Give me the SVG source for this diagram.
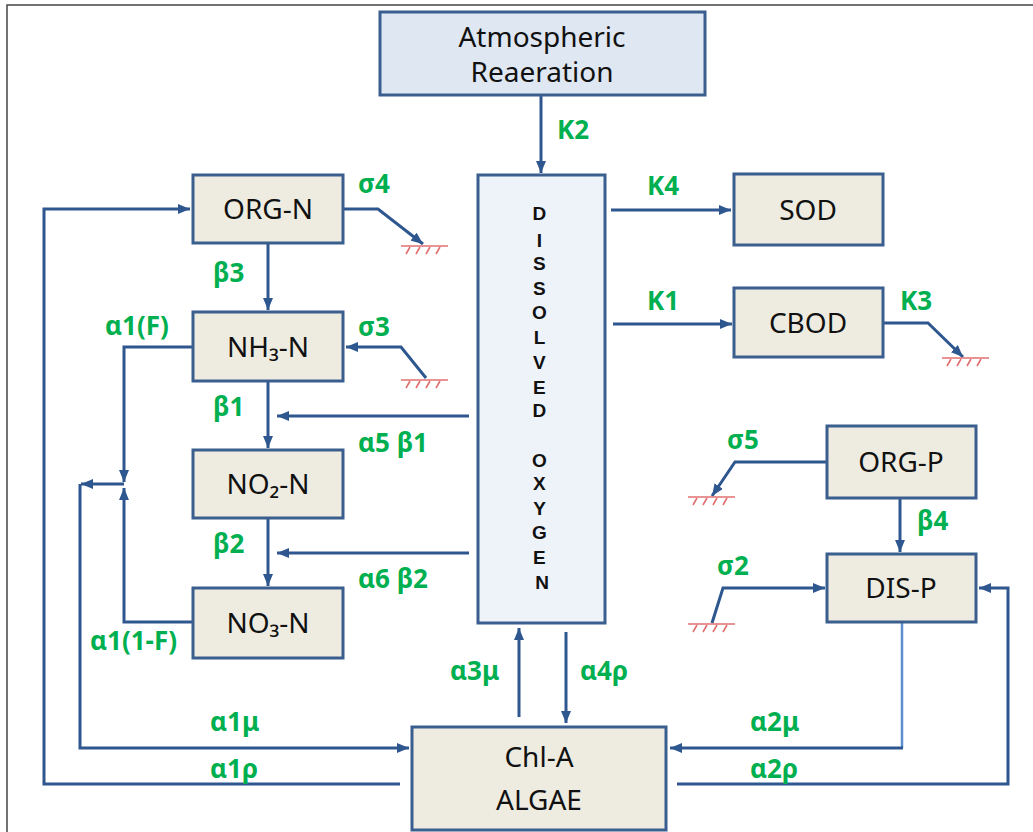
<svg xmlns="http://www.w3.org/2000/svg" width="1033" height="832" viewBox="0 0 1033 832">
  <style>
    .box { fill: #eeece1; stroke: #3a5f8f; stroke-width: 3; }
    .boxb { fill: #dfe7f2; stroke: #3a5f8f; stroke-width: 3; }
    .boxdo { fill: #eef3fa; stroke: #3a5f8f; stroke-width: 3; }
    .node { font-family: "Noto Sans", "Liberation Sans", sans-serif; font-size: 28px; fill: #111; text-anchor: middle; }
    .do { font-family: "Liberation Sans", Arial, sans-serif; font-size: 19px; font-weight: bold; fill: #111; text-anchor: middle; }
    .lbl { font-family: "Noto Sans", "Liberation Sans", sans-serif; font-size: 26px; font-weight: bold; fill: #00b050; }
    .ln { fill: none; stroke: #2e578f; stroke-width: 3; stroke-linejoin: miter; }
    .lnl { fill: none; stroke: #5b8fd0; stroke-width: 2.5; }
    .gnd { fill: none; stroke: #e07070; stroke-width: 1.6; }
  </style>
  <defs>
    <marker id="arr" viewBox="0 0 12 10" refX="12" refY="5" markerWidth="12" markerHeight="10" markerUnits="userSpaceOnUse" orient="auto">
      <path d="M0,0 L12,5 L0,10 z" fill="#2e578f"/>
    </marker>
    <g id="ground" class="gnd">
      <path d="M0,0 H47"/>
      <path d="M9,1 l-4,7 M19,1 l-4,7 M29,1 l-4,7 M39,1 l-4,7"/>
    </g>
  </defs>

  <!-- outer frame -->
  <path d="M7,832 V5 H1033" fill="none" stroke="#444" stroke-width="1.5"/>

  <!-- connectors -->
  <g id="connectors">
    <path class="ln" d="M541,95 V173" marker-end="url(#arr)"/>
    <path class="ln" d="M611,210 H731" marker-end="url(#arr)"/>
    <path class="ln" d="M613,324 H732" marker-end="url(#arr)"/>
    <path class="ln" d="M883,323 H928 L963,357" marker-end="url(#arr)"/>
    <path class="ln" d="M343,209 H378 L423,244" marker-end="url(#arr)"/>
    <path class="ln" d="M426,378 L401,347 H346" marker-end="url(#arr)"/>
    <path class="ln" d="M268,243 V310" marker-end="url(#arr)"/>
    <path class="ln" d="M268,381 V448" marker-end="url(#arr)"/>
    <path class="ln" d="M268,518 V586" marker-end="url(#arr)"/>
    <path class="ln" d="M469,416 H277" marker-end="url(#arr)"/>
    <path class="ln" d="M469,553 H277" marker-end="url(#arr)"/>
    <path class="ln" d="M193,347 H124 V482" marker-end="url(#arr)"/>
    <path class="ln" d="M193,622 H124 V488" marker-end="url(#arr)"/>
    <path class="ln" d="M124,484 H81" marker-end="url(#arr)"/>
    <path class="ln" d="M80,484 V748 H409" marker-end="url(#arr)"/>
    <path class="ln" d="M400,784 H44 V209 H190" marker-end="url(#arr)"/>
    <path class="ln" d="M519,717 V628" marker-end="url(#arr)"/>
    <path class="ln" d="M566,632 V723" marker-end="url(#arr)"/>
    <path class="lnl" d="M902,622 V748"/>
    <path class="ln" d="M903,748 H670" marker-end="url(#arr)"/>
    <path class="ln" d="M677,784 H1008 V588 H979" marker-end="url(#arr)"/>
    <path class="ln" d="M827,462 H735 L712,496" marker-end="url(#arr)"/>
    <path class="ln" d="M900,498 V552" marker-end="url(#arr)"/>
    <path class="ln" d="M712,623 L723,588 H825" marker-end="url(#arr)"/>

    <use href="#ground" transform="translate(401,246)"/>
    <use href="#ground" transform="translate(401,380)"/>
    <use href="#ground" transform="translate(942,358)"/>
    <use href="#ground" transform="translate(688,497)"/>
    <use href="#ground" transform="translate(688,624)"/>
  </g>

  <!-- rate labels -->
  <g id="labels" class="lbl">
    <text x="557" y="139">K2</text>
    <text x="647" y="195">K4</text>
    <text x="647" y="310">K1</text>
    <text x="900" y="310">K3</text>
    <text x="358" y="193">σ4</text>
    <text x="358" y="336">σ3</text>
    <text x="213" y="282">β3</text>
    <text x="213" y="416">β1</text>
    <text x="213" y="553">β2</text>
    <text x="105" y="335">α1(F)</text>
    <text x="90" y="650">α1(1-F)</text>
    <text x="358" y="452">α5 β1</text>
    <text x="358" y="588">α6 β2</text>
    <text x="450" y="680">α3μ</text>
    <text x="580" y="680">α4ρ</text>
    <text x="210" y="731">α1μ</text>
    <text x="210" y="778">α1ρ</text>
    <text x="750" y="731">α2μ</text>
    <text x="750" y="778">α2ρ</text>
    <text x="727" y="449">σ5</text>
    <text x="917" y="530">β4</text>
    <text x="717" y="575">σ2</text>
  </g>

  <g id="atmospheric-reaeration">
    <rect class="boxb" x="380" y="12" width="325" height="83"/>
    <text class="node" x="542" y="47">Atmospheric</text>
    <text class="node" x="542" y="82">Reaeration</text>
  </g>

  <g id="dissolved-oxygen">
    <rect class="boxdo" x="478" y="175" width="127" height="448"/>
    <!-- vertical caption, one letter per line -->
    <text class="do">
      <tspan x="542" y="220">D</tspan>
      <tspan x="542" y="247">I</tspan>
      <tspan x="542" y="270">S</tspan>
      <tspan x="542" y="295">S</tspan>
      <tspan x="542" y="319">O</tspan>
      <tspan x="542" y="344">L</tspan>
      <tspan x="542" y="369">V</tspan>
      <tspan x="542" y="394">E</tspan>
      <tspan x="542" y="417">D</tspan>
      <tspan x="542" y="467">O</tspan>
      <tspan x="542" y="490">X</tspan>
      <tspan x="542" y="515">Y</tspan>
      <tspan x="542" y="539">G</tspan>
      <tspan x="542" y="564">E</tspan>
      <tspan x="542" y="589">N</tspan>
    </text>
  </g>

  <g id="org-n">
    <rect class="box" x="193" y="175" width="150" height="68"/>
    <text class="node" x="268" y="219">ORG-N</text>
  </g>
  <g id="nh3-n">
    <rect class="box" x="193" y="312" width="150" height="69"/>
    <text class="node" x="268" y="357">NH₃-N</text>
  </g>
  <g id="no2-n">
    <rect class="box" x="193" y="450" width="150" height="68"/>
    <text class="node" x="268" y="494">NO₂-N</text>
  </g>
  <g id="no3-n">
    <rect class="box" x="193" y="588" width="150" height="70"/>
    <text class="node" x="268" y="633">NO₃-N</text>
  </g>
  <g id="sod">
    <rect class="box" x="734" y="174" width="149" height="71"/>
    <text class="node" x="808" y="220">SOD</text>
  </g>
  <g id="cbod">
    <rect class="box" x="734" y="288" width="149" height="69"/>
    <text class="node" x="808" y="333">CBOD</text>
  </g>
  <g id="org-p">
    <rect class="box" x="827" y="426" width="149" height="72"/>
    <text class="node" x="901" y="472">ORG-P</text>
  </g>
  <g id="dis-p">
    <rect class="box" x="827" y="554" width="149" height="68"/>
    <text class="node" x="901" y="598">DIS-P</text>
  </g>
  <g id="algae">
    <rect class="box" x="412" y="727" width="254" height="103"/>
    <text class="node" x="539" y="767">Chl-A</text>
    <text class="node" x="539" y="810">ALGAE</text>
  </g>
</svg>
